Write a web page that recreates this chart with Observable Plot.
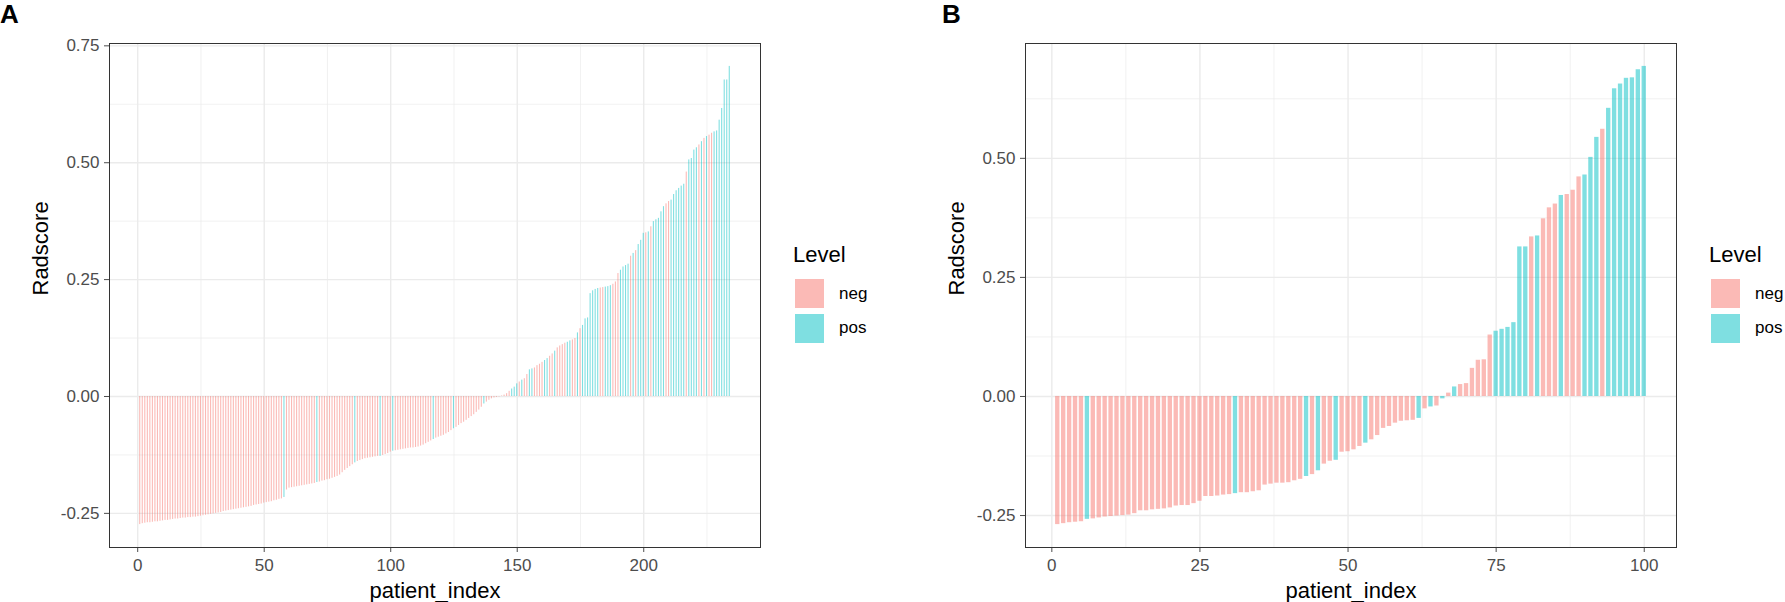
<!DOCTYPE html>
<html>
<head>
<meta charset="utf-8">
<script src="https://cdn.jsdelivr.net/npm/d3@7"></script>
<script src="https://cdn.jsdelivr.net/npm/@observablehq/plot@0.6"></script>
<style>
  body { margin: 0; background: #fff; font-family: "Liberation Sans", Arial, sans-serif; }
  #wrap { position: relative; width: 1785px; height: 602px; overflow: hidden; background: #fff; }
  .panel { position: absolute; top: 0; }
  .tag { position: absolute; font-weight: bold; font-size: 26px; line-height: 1; color: #000; }
  .ltitle { position: absolute; font-size: 22px; line-height: 1; color: #000; }
  .key { position: absolute; width: 29px; height: 29px; }
  .klabel { position: absolute; height: 29px; display: flex; align-items: center; font-size: 17px; color: #000; }
</style>
</head>
<body>
<div id="wrap"></div>
<script>
// ---------- data ----------
const levels = ["neg", "pos"];
const levelColors = ["#F8766D", "#00BFC4"];

// Panel A: Radscore per patient (sorted), patient_index = position 1..234
const radscoreA = [
  -0.274, -0.272, -0.271, -0.270, -0.270, -0.269, -0.268, -0.268, -0.267, -0.266,
  -0.265, -0.265, -0.264, -0.263, -0.262, -0.262, -0.261, -0.260, -0.260, -0.259,
  -0.259, -0.258, -0.258, -0.257, -0.256, -0.255, -0.254, -0.253, -0.252, -0.251,
  -0.250, -0.249, -0.248, -0.246, -0.245, -0.244, -0.243, -0.242, -0.241, -0.240,
  -0.239, -0.238, -0.237, -0.236, -0.235, -0.233, -0.232, -0.231, -0.230, -0.228,
  -0.227, -0.226, -0.225, -0.223, -0.222, -0.220, -0.219, -0.216, -0.200, -0.196,
  -0.195, -0.194, -0.193, -0.192, -0.191, -0.190, -0.189, -0.188, -0.187, -0.186,
  -0.184, -0.183, -0.181, -0.180, -0.178, -0.177, -0.175, -0.173, -0.171, -0.168,
  -0.163, -0.158, -0.154, -0.150, -0.146, -0.142, -0.139, -0.137, -0.135, -0.133,
  -0.132, -0.131, -0.130, -0.129, -0.128, -0.128, -0.126, -0.124, -0.122, -0.119,
  -0.117, -0.116, -0.115, -0.114, -0.113, -0.112, -0.111, -0.110, -0.110, -0.109,
  -0.108, -0.106, -0.104, -0.101, -0.098, -0.095, -0.092, -0.089, -0.087, -0.085,
  -0.083, -0.080, -0.077, -0.073, -0.069, -0.066, -0.062, -0.058, -0.055, -0.051,
  -0.047, -0.043, -0.039, -0.034, -0.029, -0.023, -0.016, -0.012, -0.008, -0.005,
  -0.003, -0.002, -0.001, 0.001, 0.003, 0.006, 0.011, 0.016, 0.020, 0.027,
  0.031, 0.035, 0.038, 0.047, 0.057, 0.059, 0.061, 0.066, 0.069, 0.073,
  0.077, 0.081, 0.086, 0.091, 0.097, 0.104, 0.108, 0.111, 0.114, 0.116,
  0.119, 0.121, 0.124, 0.136, 0.145, 0.152, 0.166, 0.168, 0.220, 0.226,
  0.229, 0.231, 0.232, 0.233, 0.234, 0.235, 0.237, 0.240, 0.245, 0.263,
  0.270, 0.277, 0.280, 0.283, 0.300, 0.306, 0.312, 0.325, 0.334, 0.349,
  0.350, 0.352, 0.363, 0.374, 0.378, 0.381, 0.395, 0.406, 0.412, 0.417,
  0.420, 0.432, 0.440, 0.445, 0.450, 0.454, 0.480, 0.506, 0.509, 0.527,
  0.532, 0.538, 0.545, 0.552, 0.556, 0.559, 0.563, 0.566, 0.568, 0.591,
  0.616, 0.677, 0.677, 0.706
];
// patient_index values whose Level is "pos" (all others "neg")
const posIndexA = [58, 71, 86, 96, 101, 117, 125, 137, 148, 149, 150, 152, 155, 156,
  161, 162, 165, 170, 171, 174, 176, 177, 178, 179, 180, 181, 182, 185, 186, 187,
  191, 192, 193, 194, 196, 198, 199, 200, 202, 204, 205, 206, 207, 208, 211, 212,
  213, 214, 215, 216, 218, 219, 220, 221, 223, 225, 228, 229, 230, 231, 232, 233, 234];

// Panel B
const radscoreB = [
  -0.269, -0.267, -0.265, -0.264, -0.263, -0.258, -0.257, -0.255, -0.253, -0.252,
  -0.251, -0.250, -0.249, -0.246, -0.240, -0.240, -0.238, -0.237, -0.236, -0.234,
  -0.230, -0.229, -0.229, -0.225, -0.220, -0.210, -0.210, -0.209, -0.207, -0.206,
  -0.204, -0.202, -0.202, -0.200, -0.198, -0.186, -0.184, -0.182, -0.182, -0.181,
  -0.177, -0.174, -0.168, -0.164, -0.156, -0.142, -0.136, -0.134, -0.117, -0.116,
  -0.112, -0.105, -0.098, -0.091, -0.082, -0.067, -0.063, -0.056, -0.052, -0.051,
  -0.050, -0.046, -0.026, -0.022, -0.020, -0.005, 0.007, 0.020, 0.025, 0.027,
  0.059, 0.076, 0.077, 0.129, 0.137, 0.141, 0.145, 0.155, 0.314, 0.314,
  0.335, 0.337, 0.373, 0.396, 0.404, 0.422, 0.424, 0.433, 0.461, 0.465,
  0.502, 0.544, 0.561, 0.605, 0.646, 0.656, 0.668, 0.669, 0.686, 0.693
];
const posIndexB = [6, 31, 43, 45, 48, 53, 62, 64, 66, 68, 75, 76, 77, 78, 79, 80, 82,
  86, 90, 91, 92, 94, 95, 96, 97, 98, 99, 100];

// tick values
const xTicksA = [0, 50, 100, 150, 200];
const xMinorA = [25, 75, 125, 175, 225];
const yTicksA = [-0.25, 0, 0.25, 0.5, 0.75];
const yMinorA = [-0.125, 0.125, 0.375, 0.625];
const xTicksB = [0, 25, 50, 75, 100];
const xMinorB = [12.5, 37.5, 62.5, 87.5];
const yTicksB = [-0.25, 0, 0.25, 0.5];
const yMinorB = [-0.125, 0.125, 0.375, 0.625];

// ---------- helpers ----------
const toRows = (vals, pos) => vals.map((v, k) => ({
  patient_index: k + 1, Radscore: v, Level: pos.includes(k + 1) ? "pos" : "neg"
}));
const expand = ([a, b]) => { const r = b - a; return [a - 0.05 * r, b + 0.05 * r]; };
const FONT = '"Liberation Sans", Arial, sans-serif';

function panel(rows, cfg) {
  const n = rows.length;
  return Plot.plot({
    width: 780, height: 602,
    marginLeft: 109, marginRight: 20, marginTop: 43, marginBottom: 55,
    x: { domain: expand([0.55, n + 0.45]) },
    y: { domain: expand(d3.extent(rows, d => d.Radscore)) },
    color: { domain: levels, range: levelColors },
    style: { fontFamily: FONT, fontSize: "17px", background: "transparent", overflow: "visible" },
    marks: [
      Plot.gridY(cfg.yMinor, { stroke: "#EBEBEB", strokeOpacity: 1, strokeWidth: 0.7 }),
      Plot.gridX(cfg.xMinor, { stroke: "#EBEBEB", strokeOpacity: 1, strokeWidth: 0.7 }),
      Plot.gridY(cfg.yTicks, { stroke: "#EBEBEB", strokeOpacity: 1, strokeWidth: 1.4 }),
      Plot.gridX(cfg.xTicks, { stroke: "#EBEBEB", strokeOpacity: 1, strokeWidth: 1.4 }),
      Plot.rect(rows, {
        x1: d => d.patient_index - 0.45, x2: d => d.patient_index + 0.45,
        y1: 0, y2: "Radscore", fill: "Level", fillOpacity: 0.5,
        insetLeft: cfg.inset, insetRight: cfg.inset
      }),
      Plot.axisX(cfg.xTicks, { tickSize: 5, tickPadding: 6, fontSize: 17, color: "#4D4D4D", label: null }),
      Plot.axisY(cfg.yTicks, { tickSize: 5, tickPadding: 5, fontSize: 17, color: "#4D4D4D", label: null,
        tickFormat: d => d.toFixed(2) }),
      Plot.text(["patient_index"], { frameAnchor: "bottom", dy: 50, lineAnchor: "bottom",
        fontSize: 22, fill: "#000" }),
      Plot.text(["Radscore"], { frameAnchor: "left", dx: -77, rotate: -90, lineAnchor: "top",
        fontSize: 22, fill: "#000" }),
      Plot.frame({ stroke: "#333333", strokeWidth: 1 })
    ]
  });
}

const wrap = document.getElementById("wrap");
function place(el, left) { el.classList.add("panel"); el.style.left = left + "px"; wrap.appendChild(el); }

place(panel(toRows(radscoreA, posIndexA), { xTicks: xTicksA, xMinor: xMinorA, yTicks: yTicksA, yMinor: yMinorA, inset: 0.6 }), 0);
place(panel(toRows(radscoreB, posIndexB), { xTicks: xTicksB, xMinor: xMinorB, yTicks: yTicksB, yMinor: yMinorB, inset: 0.5 }), 916);

function legend(left) {
  const t = document.createElement("div");
  t.className = "ltitle"; t.textContent = "Level";
  t.style.left = left + "px"; t.style.top = "244px";
  wrap.appendChild(t);
  levels.forEach((lv, k) => {
    const top = 279 + k * 34.5;
    const key = document.createElement("div");
    key.className = "key";
    key.style.left = (left + 2) + "px"; key.style.top = top + "px";
    key.style.background = levelColors[k]; key.style.opacity = 0.5;
    wrap.appendChild(key);
    const lab = document.createElement("div");
    lab.className = "klabel"; lab.textContent = lv;
    lab.style.left = (left + 46) + "px"; lab.style.top = top + "px";
    wrap.appendChild(lab);
  });
}
legend(793);
legend(1709);

function tag(text, left) {
  const d = document.createElement("div");
  d.className = "tag"; d.textContent = text;
  d.style.left = left + "px"; d.style.top = "1px";
  wrap.appendChild(d);
}
tag("A", 0);
tag("B", 942);
</script>
</body>
</html>
